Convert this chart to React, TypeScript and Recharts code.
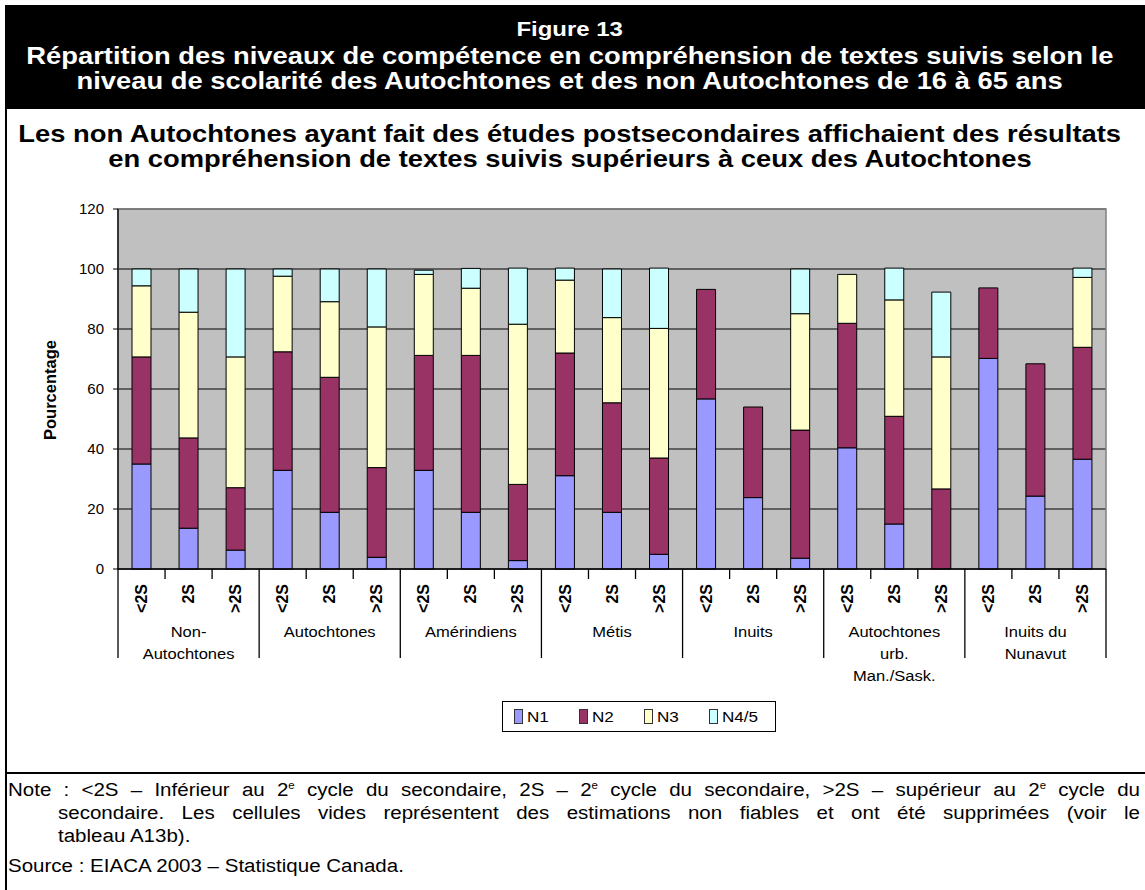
import React from 'react';
import { BarChart, Bar, XAxis, YAxis, CartesianGrid, ReferenceArea } from 'recharts';

// groups and education levels along the x axis
const groupLines: string[][] = [
  ['Non-', 'Autochtones'],
  ['Autochtones'],
  ['Amérindiens'],
  ['Métis'],
  ['Inuits'],
  ['Autochtones', 'urb.', 'Man./Sask.'],
  ['Inuits du', 'Nunavut'],
];
const levels = ['<2S', '2S', '>2S'];

// percentages per level (null = suppressed estimate)
const n1 = [35.0, 13.6, 6.3, 32.9, 18.9, 3.9, 32.9, 18.9, 2.8, 31.1, 18.9, 4.9, 56.7, 23.8, 3.6, 40.4, 15.0, null, 70.2, 24.3, 36.6];
const n2 = [35.7, 30.1, 20.8, 39.5, 45.0, 29.9, 38.3, 52.3, 25.4, 40.9, 36.5, 32.1, 36.5, 30.2, 42.7, 41.5, 35.9, 26.7, 23.5, 44.1, 37.3];
const n3 = [23.7, 41.9, 43.6, 25.2, 25.2, 46.9, 27.0, 22.4, 53.4, 24.3, 28.4, 43.2, null, null, 38.8, 16.3, 38.8, 44.0, null, null, 23.3];
const n45 = [5.6, 14.4, 29.3, 2.4, 10.9, 19.3, 1.4, 6.6, 18.7, 4.0, 16.2, 20.1, null, null, 14.9, null, 10.6, 21.6, null, null, 3.1];

const yTicks = [0, 20, 40, 60, 80, 100, 120];

const series = [
  { key: 'N1', values: n1, color: '#9999FF' },
  { key: 'N2', values: n2, color: '#993366' },
  { key: 'N3', values: n3, color: '#FFFFCC' },
  { key: 'N4/5', values: n45, color: '#CCFFFF' },
];

const chartData = n1.map((_, i) => {
  const row: { [k: string]: number | string | null } = {
    key: `${groupLines[Math.floor(i / 3)].join(' ')}|${levels[i % 3]}`,
  };
  series.forEach(s => {
    row[s.key] = s.values[i];
  });
  return row;
});

const FONT = 'Arial, "Liberation Sans", sans-serif';
const S = 1.14; // horizontal stretch of the original text

// chart geometry
const CW = 1145;
const CH = 780;
const M = { top: 209, right: 39, bottom: 111, left: 58 };
const Y_W = 60;
const X_H = 100;
const PLOT_L = M.left + Y_W;
const PLOT_W = CW - PLOT_L - M.right;
const PLOT_B = CH - M.bottom - X_H;
const BAND = PLOT_W / chartData.length;

const CatTick = (props: any) => {
  const { x, index } = props;
  const left = x - BAND / 2;
  const g = Math.floor(index / 3);
  return (
    <g>
      <line x1={left} y1={PLOT_B} x2={left} y2={index % 3 === 0 ? PLOT_B + 89 : PLOT_B + 10} stroke="#000" strokeWidth={1.3} />
      {index === chartData.length - 1 && (
        <line x1={x + BAND / 2} y1={PLOT_B} x2={x + BAND / 2} y2={PLOT_B + 89} stroke="#000" strokeWidth={1.3} />
      )}
      <text
        x={x}
        y={PLOT_B + 15}
        dy="0.35em"
        transform={`rotate(-90, ${x}, ${PLOT_B + 15})`}
        textAnchor="end"
        fontFamily={FONT}
        fontWeight="bold"
        fontSize={16}
        fill="#000"
      >
        {levels[index % 3]}
      </text>
      {index % 3 === 1 &&
        groupLines[g].map((ln, k) => (
          <text
            key={k}
            transform={`translate(${x}, ${PLOT_B + 63 + k * 22}) scale(${S}, 1)`}
            textAnchor="middle"
            dy="0.35em"
            fontFamily={FONT}
            fontSize={14.5}
            fill="#000"
          >
            {ln}
          </text>
        ))}
    </g>
  );
};

const TextLine = ({ top, size, bold, color, children }: any) => (
  <div
    style={{
      position: 'absolute',
      left: 5,
      width: 1130,
      top: top - 15,
      height: 30,
      lineHeight: '30px',
      textAlign: 'center',
      fontSize: size,
      fontWeight: bold ? 'bold' : 'normal',
      color: color || '#000',
      whiteSpace: 'nowrap',
    }}
  >
    <span style={{ display: 'inline-block', transform: `scaleX(${S})` }}>{children}</span>
  </div>
);

const NoteLine = ({ top, left, justify, children }: any) => (
  <div
    style={{
      position: 'absolute',
      left,
      top,
      width: (1140 - left) / S,
      transform: `scaleX(${S})`,
      transformOrigin: 'left top',
      fontSize: 18,
      lineHeight: '23px',
      height: 23,
      whiteSpace: 'nowrap',
      textAlign: justify ? 'justify' : 'left',
      textAlignLast: justify ? 'justify' : 'left',
    }}
  >
    {children}
  </div>
);

const LegendBox = () => (
  <div
    style={{
      position: 'absolute',
      left: 502,
      top: 701,
      width: 274,
      height: 31,
      border: '1px solid #000',
      display: 'flex',
      alignItems: 'center',
      paddingLeft: 11,
      boxSizing: 'border-box',
    }}
  >
    {series.map(s => (
      <div key={s.key} style={{ display: 'flex', alignItems: 'center', width: 65 }}>
        <span style={{ width: 7, height: 13, background: s.color, border: '1px solid #333', marginRight: 4 }} />
        <span style={{ fontSize: 15, display: 'inline-block', transform: `scaleX(${S})`, transformOrigin: 'left center' }}>{s.key}</span>
      </div>
    ))}
  </div>
);

const sup = (t: string) => <sup style={{ fontSize: 10, lineHeight: 0 }}>{t}</sup>;

export default function App() {
  return (
    <div style={{ position: 'absolute', left: 0, top: 0, width: 1145, height: 890, background: '#fff', fontFamily: FONT, overflow: 'hidden' }}>
      {/* header band */}
      <div style={{ position: 'absolute', left: 5, top: 5, width: 1140, height: 104, background: '#000' }} />
      <TextLine top={29} size={21} bold color="#fff">Figure 13</TextLine>
      <TextLine top={56} size={24} bold color="#fff">
        Répartition des niveaux de compétence en compréhension de textes suivis selon le
      </TextLine>
      <TextLine top={81} size={24} bold color="#fff">
        niveau de scolarité des Autochtones et des non Autochtones de 16 à 65 ans
      </TextLine>

      {/* chart title */}
      <TextLine top={134} size={24} bold>
        Les non Autochtones ayant fait des études postsecondaires affichaient des résultats
      </TextLine>
      <TextLine top={159} size={24} bold>
        en compréhension de textes suivis supérieurs à ceux des Autochtones
      </TextLine>

      {/* frame lines */}
      <div style={{ position: 'absolute', left: 5, top: 5, width: 2, height: 885, background: '#000' }} />
      <div style={{ position: 'absolute', left: 5, top: 772, width: 1140, height: 2, background: '#000' }} />

      <div
        style={{
          position: 'absolute',
          left: 50,
          top: 390,
          transform: 'translate(-50%, -50%) rotate(-90deg)',
          fontWeight: 'bold',
          fontSize: 16.5,
          whiteSpace: 'nowrap',
        }}
      >
        Pourcentage
      </div>

      <div style={{ position: 'absolute', left: 0, top: 0 }}>
        <BarChart width={CW} height={CH} data={chartData} margin={M} barSize={19}>
          <CartesianGrid vertical={false} stroke="#000" fill="#C0C0C0" />
          <ReferenceArea y1={0} y2={120} fill="none" stroke="#808080" strokeWidth={1.5} ifOverflow="visible" />
          <XAxis
            dataKey="key"
            interval={0}
            height={X_H}
            tickLine={false}
            axisLine={{ stroke: '#000', strokeWidth: 1.3 }}
            tick={<CatTick />}
          />
          <YAxis
            width={Y_W}
            domain={[0, 120]}
            ticks={yTicks}
            interval={0}
            tickSize={5}
            tickMargin={9}
            axisLine={{ stroke: '#000', strokeWidth: 1.3 }}
            tickLine={{ stroke: '#000' }}
            tick={{ fill: '#000', fontSize: 15, fontFamily: FONT }}
          />
          {series.map(s => (
            <Bar
              key={s.key}
              dataKey={s.key}
              stackId="a"
              fill={s.color}
              stroke="#000"
              strokeWidth={1}
              isAnimationActive={false}
            />
          ))}
        </BarChart>
      </div>

      <LegendBox />

      {/* notes */}
      <NoteLine top={779} left={8} justify>
        Note : &lt;2S – Inférieur au 2{sup('e')} cycle du secondaire, 2S – 2{sup('e')} cycle du secondaire, &gt;2S – supérieur au 2{sup('e')} cycle du
      </NoteLine>
      <NoteLine top={802} left={58} justify>
        secondaire. Les cellules vides représentent des estimations non fiables et ont été supprimées (voir le
      </NoteLine>
      <NoteLine top={825} left={58}>
        tableau A13b).
      </NoteLine>
      <NoteLine top={855} left={8}>
        Source : EIACA 2003 – Statistique Canada.
      </NoteLine>
    </div>
  );
}
